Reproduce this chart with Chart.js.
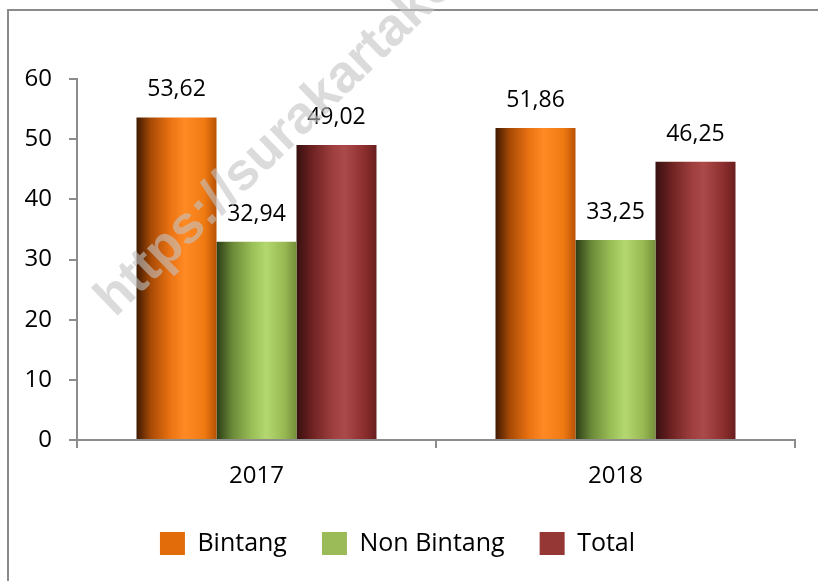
<!DOCTYPE html>
<html>
<head>
<meta charset="utf-8">
<script src="https://cdn.jsdelivr.net/npm/chart.js@4.4.1/dist/chart.umd.min.js"></script>
<style>
  html, body { margin: 0; padding: 0; background: #fff; }
  #wrap { width: 818px; height: 581px; position: relative; }
</style>
</head>
<body>
<div id="wrap"><canvas id="chart" width="818" height="581"></canvas></div>
<script>
// Chart data
const years = ['2017', '2018'];
const seriesNames = ['Bintang', 'Non Bintang', 'Total'];
const bintang = [53.62, 51.86];
const nonBintang = [32.94, 33.25];
const total = [49.02, 46.25];
const yMin = 0;
const yMax = 60;
const yStep = 10;
const watermarkText = 'https://surakartakota.bps.go.id';

// Look
const FONT = '"Open Sans", "DejaVu Sans", sans-serif';
const axisGray = '#8c8c8c';
const catPct = 0.6685;
const legendColors = ['#e36c0a', '#9bbb59', '#953735'];
// cylinder-like shading, left to right
const shades = [
    [[0, '#3f1a00'], [0.18, '#a84a06'], [0.42, '#ea7212'], [0.6, '#ff8a24'], [0.85, '#f07a12'], [1, '#b85206']],
    [[0, '#2c3c16'], [0.2, '#6a8a38'], [0.45, '#9cc058'], [0.62, '#b4d870'], [0.85, '#98b852'], [1, '#758f3a']],
    [[0, '#381010'], [0.2, '#6e2222'], [0.45, '#9e3e3e'], [0.6, '#ac4a4a'], [0.85, '#8c2e2e'], [1, '#6a1e1e']]
];

// Gradient for one bar, placed from the x scale
function barFill(ctx) {
    const stops = shades[ctx.datasetIndex];
    const chart = ctx.chart;
    const x = chart.scales.x;
    if (!x || ctx.dataIndex === undefined || !isFinite(x.left) || !isFinite(x.right)) {
        return legendColors[ctx.datasetIndex];
    }
    const catW = (x.right - x.left) / years.length;
    const barW = catW * catPct / seriesNames.length;
    const center = x.getPixelForValue(ctx.dataIndex);
    const left = center + (ctx.datasetIndex - seriesNames.length / 2) * barW;
    if (!isFinite(left)) return legendColors[ctx.datasetIndex];
    const g = chart.ctx.createLinearGradient(left, 0, left + barW, 0);
    stops.forEach(s => g.addColorStop(s[0], s[1]));
    return g;
}

// Frame round the chart (left and top edge only, like the source)
const framePlugin = {
    id: 'frame',
    beforeDraw(chart) {
        const c = chart.ctx;
        c.save();
        c.fillStyle = '#fff';
        c.fillRect(0, 0, chart.width, chart.height);
        c.strokeStyle = '#8a8a8a';
        c.lineWidth = 2;
        c.beginPath();
        c.moveTo(8, chart.height);
        c.lineTo(8, 10);
        c.lineTo(chart.width, 10);
        c.stroke();
        c.restore();
    }
};

// Value labels above bars, comma decimals
const valueLabels = {
    id: 'valueLabels',
    afterDatasetsDraw(chart) {
        const c = chart.ctx;
        c.save();
        c.font = '23px ' + FONT;
        c.fillStyle = '#000';
        c.textAlign = 'center';
        c.textBaseline = 'alphabetic';
        chart.data.datasets.forEach((ds, i) => {
            chart.getDatasetMeta(i).data.forEach((bar, j) => {
                c.fillText(ds.data[j].toFixed(2).replace('.', ','), bar.x, bar.y - 21);
            });
        });
        c.restore();
    }
};

// Faint diagonal watermark
const watermark = {
    id: 'watermark',
    afterDraw(chart) {
        const c = chart.ctx;
        c.save();
        c.translate(115, 318);
        c.rotate(-44 * Math.PI / 180);
        c.font = 'bold 53px "Liberation Sans", Arial, sans-serif';
        c.fillStyle = 'rgba(195, 195, 195, 0.6)';
        c.textAlign = 'left';
        c.textBaseline = 'alphabetic';
        c.fillText(watermarkText, 0, 0);
        c.restore();
    }
};

const ctx = document.getElementById('chart').getContext('2d');
new Chart(ctx, {
    type: 'bar',
    data: {
        labels: years,
        datasets: [
            { label: seriesNames[0], data: bintang, backgroundColor: barFill },
            { label: seriesNames[1], data: nonBintang, backgroundColor: barFill },
            { label: seriesNames[2], data: total, backgroundColor: barFill }
        ]
    },
    options: {
        responsive: false,
        animation: false,
        devicePixelRatio: 1,
        categoryPercentage: catPct,
        barPercentage: 1,
        borderWidth: 0,
        layout: {
            padding: { top: 79, right: 23, bottom: 15, left: 0 }
        },
        plugins: {
            tooltip: { enabled: false },
            legend: {
                position: 'bottom',
                align: 'center',
                labels: {
                    font: { family: FONT, size: 25 },
                    color: '#000',
                    boxWidth: 25,
                    boxHeight: 23,
                    padding: 35,
                    useBorderRadius: true,
                    borderRadius: 5,
                    generateLabels(chart) {
                        return seriesNames.map((name, i) => ({
                            text: name,
                            fillStyle: legendColors[i],
                            strokeStyle: legendColors[i],
                            lineWidth: 0,
                            fontColor: '#000',
                            hidden: false,
                            datasetIndex: i
                        }));
                    }
                }
            }
        },
        scales: {
            x: {
                grid: {
                    drawOnChartArea: false,
                    drawTicks: true,
                    tickLength: 8,
                    color: axisGray,
                    lineWidth: 2
                },
                border: { color: axisGray, width: 2 },
                ticks: {
                    font: { family: FONT, size: 24 },
                    color: '#000',
                    padding: 14
                },
                afterFit(scale) { scale.height = 56; }
            },
            y: {
                min: yMin,
                max: yMax,
                grid: {
                    drawOnChartArea: false,
                    drawTicks: true,
                    tickLength: 8,
                    color: axisGray,
                    lineWidth: 2
                },
                border: { color: axisGray, width: 2 },
                ticks: {
                    stepSize: yStep,
                    font: { family: FONT, size: 24 },
                    color: '#000',
                    padding: 17
                },
                afterFit(scale) { scale.width = 77; }
            }
        }
    },
    plugins: [framePlugin, valueLabels, watermark]
});
</script>
</body>
</html>
